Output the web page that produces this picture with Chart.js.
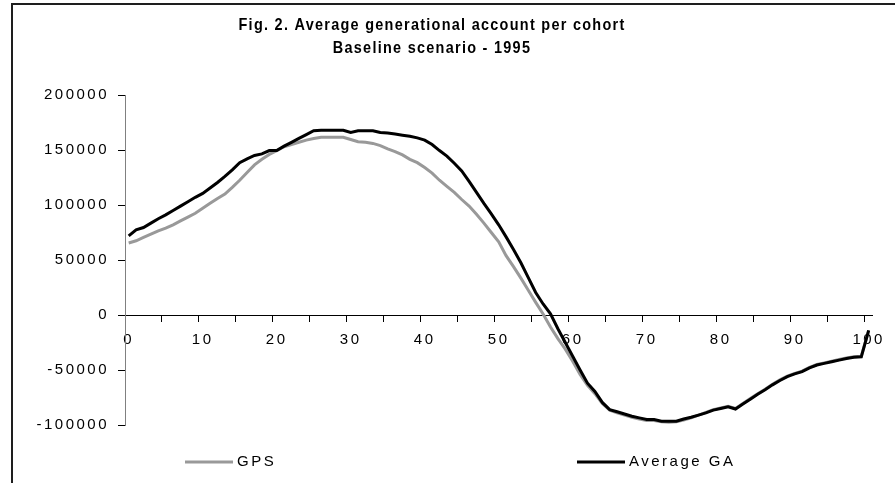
<!DOCTYPE html>
<html>
<head>
<meta charset="utf-8">
<title>Average generational account per cohort</title>
<script src="https://cdn.jsdelivr.net/npm/chart.js@4/dist/chart.umd.min.js"></script>
<style>
  html, body { margin: 0; padding: 0; background: #fff; }
</style>
</head>
<body>
<canvas id="chart" width="895" height="483"></canvas>
<script>
// cohort ages on the category axis
const ages = [0, 1, 2, 3, 4, 5, 6, 7, 8, 9, 10, 11, 12, 13, 14, 15, 16, 17, 18, 19,
  20, 21, 22, 23, 24, 25, 26, 27, 28, 29, 30, 31, 32, 33, 34, 35, 36, 37, 38, 39,
  40, 41, 42, 43, 44, 45, 46, 47, 48, 49, 50, 51, 52, 53, 54, 55, 56, 57, 58, 59,
  60, 61, 62, 63, 64, 65, 66, 67, 68, 69, 70, 71, 72, 73, 74, 75, 76, 77, 78, 79,
  80, 81, 82, 83, 84, 85, 86, 87, 88, 89, 90, 91, 92, 93, 94, 95, 96, 97, 98, 99, 100];

// GPS (grey line)
const gps = [65500, 67500, 70500, 73500, 76500, 79000, 82000, 85500, 89000, 92500,
  97000, 101500, 106000, 110000, 116000, 122500, 129500, 136500, 141500, 146000,
  149500, 153000, 155000, 157000, 159000, 160500, 161500, 161500, 161500, 161500,
  159500, 157500, 157000, 156000, 154000, 151000, 148500, 145500, 141500, 138500,
  134000, 129000, 122500, 117000, 111500, 105000, 99000, 91500, 83500, 75000,
  66500, 54000, 44000, 33500, 22500, 11500, 1000, -11000, -21500, -31000,
  -42000, -54000, -64000, -71500, -80500, -86500, -89000, -91000, -93000, -94500,
  -96000, -96000, -97000, -97500, -97000, -95500, -93500, -91000, -88500, -86000,
  -84500, -83000, -85000, -80500, -76000, -71500, -67500, -63000, -59000, -55500,
  -53000, -51000, -47500, -45000, -43500, -42000, -40500, -39000, -38000, -37500, -14000];

// Average GA (black line)
const averageGA = [72000, 77500, 79500, 83500, 87500, 91000, 95000, 99000, 103000, 107000,
  110500, 115500, 120500, 126000, 132000, 138500, 142000, 145000, 146500, 149500,
  149500, 153500, 157000, 160500, 164000, 167500, 168000, 168000, 168000, 168000,
  166000, 167500, 167500, 167500, 166000, 165500, 164500, 163500, 162500, 161000,
  159000, 155000, 149500, 144500, 138000, 131000, 121500, 111500, 101500, 92000,
  82000, 71000, 59500, 47500, 34000, 20500, 10000, 1000, -12500, -25000,
  -37500, -50000, -62000, -69500, -79500, -86000, -88000, -90000, -92000, -93500,
  -95000, -95000, -96500, -96500, -96500, -94500, -93000, -91000, -89000, -86500,
  -85000, -83500, -85500, -81000, -76500, -72000, -68000, -63500, -59500, -56000,
  -53500, -51500, -48000, -45500, -44000, -42500, -41000, -39500, -38500, -38000, -14000];

const yMin = -100000;
const yMax = 200000;
const yStep = 50000;

const titleLines = ['Fig. 2. Average generational account per cohort', 'Baseline scenario - 1995'];

const tickFont = { family: '"Liberation Sans", Arial, sans-serif', size: 15 };

// frame, title and the two-item legend drawn straight on the canvas
const paper = {
  id: 'paper',
  beforeUpdate(chart) {
    chart.ctx.letterSpacing = '2.5px';
  },
  beforeDraw(chart) {
    const ctx = chart.ctx;
    ctx.save();
    ctx.fillStyle = '#fff';
    ctx.fillRect(0, 0, chart.width, chart.height);
    ctx.strokeStyle = '#1e1e1e';
    ctx.lineWidth = 2;
    ctx.beginPath();
    ctx.moveTo(12, chart.height);
    ctx.lineTo(12, 4);
    ctx.lineTo(chart.width, 4);
    ctx.stroke();
    ctx.restore();
    ctx.letterSpacing = '2.5px';
  },
  afterDraw(chart) {
    const ctx = chart.ctx;
    ctx.save();
    ctx.fillStyle = '#000';
    ctx.textAlign = 'center';
    ctx.textBaseline = 'middle';
    // narrow bold title: squeeze a regular bold face horizontally
    ctx.save();
    ctx.translate(432, 0);
    ctx.scale(0.85, 1);
    ctx.font = 'bold 17px "Liberation Sans", Arial, sans-serif';
    ctx.letterSpacing = '1.5px';
    ctx.fillText(titleLines[0], 0, 25);
    ctx.fillText(titleLines[1], 0, 48);
    ctx.restore();

    // legend
    ctx.font = '15px "Liberation Sans", Arial, sans-serif';
    ctx.letterSpacing = '2.5px';
    ctx.textAlign = 'left';
    const spots = [185, 577];
    const order = [1, 0];
    order.forEach((di, k) => {
      const ds = chart.data.datasets[di];
      const x = spots[k];
      ctx.strokeStyle = ds.borderColor;
      ctx.lineWidth = ds.borderWidth;
      ctx.beginPath();
      ctx.moveTo(x, 462);
      ctx.lineTo(x + 48, 462);
      ctx.stroke();
      ctx.fillText(ds.label, x + 52, 462);
    });
    ctx.restore();
  }
};

new Chart(document.getElementById('chart'), {
  type: 'line',
  data: {
    labels: ages,
    datasets: [
      {
        label: 'Average GA',
        data: averageGA,
        borderColor: '#000000',
        borderWidth: 3,
        pointRadius: 0,
        tension: 0,
        order: 0
      },
      {
        label: 'GPS',
        data: gps,
        borderColor: '#999999',
        borderWidth: 3,
        pointRadius: 0,
        tension: 0,
        order: 1
      }
    ]
  },
  options: {
    responsive: false,
    animation: false,
    devicePixelRatio: 1,
    layout: { padding: { left: 0, right: 10, top: 95, bottom: 58 } },
    plugins: {
      legend: { display: false },
      tooltip: { enabled: false }
    },
    scales: {
      x: {
        type: 'category',
        position: { y: 0 },
        offset: true,
        afterFit(scale) { scale.height = 0; },
        grid: {
          offset: true,
          drawOnChartArea: false,
          tickLength: 6,
          color: (c) => (ages[c.index] !== undefined && ages[c.index] % 5 === 0) ? '#000' : 'rgba(0,0,0,0)'
        },
        border: { color: '#000', width: 1 },
        ticks: {
          autoSkip: false,
          maxRotation: 0,
          minRotation: 0,
          padding: 10,
          color: '#000',
          font: tickFont,
          callback: (v, i) => (ages[i] % 10 === 0 ? String(ages[i]) : '')
        }
      },
      y: {
        min: yMin,
        max: yMax,
        afterFit(scale) { scale.width = 125; },
        grid: { drawOnChartArea: false, tickLength: 7, color: '#000' },
        border: { color: '#808080', width: 1 },
        ticks: {
          stepSize: yStep,
          padding: 9,
          color: '#000',
          font: tickFont,
          callback: (v) => String(v)
        }
      }
    }
  },
  plugins: [paper]
});
</script>
</body>
</html>
